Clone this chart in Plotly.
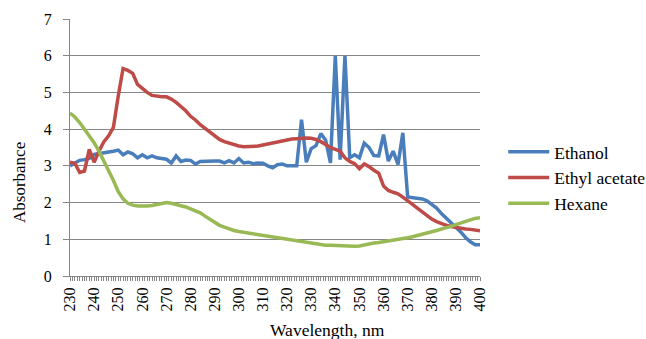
import plotly.graph_objects as go

wavelength = list(range(230, 401, 2))

ethanol = [3.00, 3.07, 3.15, 3.17, 3.20, 3.31, 3.34, 3.36, 3.38, 3.40,
           3.43, 3.30, 3.38, 3.33, 3.22, 3.30, 3.22, 3.27, 3.22, 3.20,
           3.18, 3.08, 3.27, 3.12, 3.16, 3.15, 3.05, 3.12, 3.13, 3.13,
           3.13, 3.13, 3.08, 3.14, 3.08, 3.20, 3.08, 3.10, 3.06, 3.08,
           3.07, 3.00, 2.95, 3.03, 3.05, 3.00, 3.00, 3.00, 4.26, 3.10,
           3.47, 3.55, 3.88, 3.70, 3.08, 6.00, 3.17, 6.00, 3.22, 3.30,
           3.22, 3.62, 3.50, 3.28, 3.27, 3.85, 3.13, 3.40, 3.04, 3.90,
           2.15, 2.14, 2.12, 2.10, 2.05, 1.95, 1.85, 1.70, 1.58, 1.45,
           1.33, 1.20, 1.05, 0.93, 0.85, 0.85]

ethyl_acetate = [3.10, 3.07, 2.82, 2.86, 3.45, 3.10, 3.40, 3.65, 3.82, 4.05,
                 4.90, 5.65, 5.60, 5.52, 5.22, 5.10, 5.00, 4.92, 4.89, 4.88,
                 4.88, 4.82, 4.73, 4.62, 4.50, 4.35, 4.25, 4.12, 4.02, 3.90,
                 3.82, 3.72, 3.66, 3.62, 3.57, 3.54, 3.52, 3.52, 3.52, 3.54,
                 3.57, 3.60, 3.62, 3.66, 3.68, 3.72, 3.73, 3.74, 3.76, 3.76,
                 3.75, 3.72, 3.66, 3.58, 3.50, 3.45, 3.40, 3.22, 3.12, 3.06,
                 2.92, 3.05, 2.98, 2.88, 2.80, 2.45, 2.33, 2.28, 2.24, 2.15,
                 2.06, 1.95, 1.85, 1.75, 1.65, 1.55, 1.48, 1.42, 1.38, 1.35,
                 1.32, 1.30, 1.28, 1.27, 1.25, 1.23]

hexane = [4.44, 4.33, 4.18, 4.00, 3.83, 3.63, 3.40, 3.15, 2.85, 2.60,
          2.30, 2.10, 1.98, 1.93, 1.91, 1.90, 1.91, 1.92, 1.94, 1.97,
          2.00, 1.98, 1.95, 1.92, 1.88, 1.83, 1.78, 1.72, 1.63, 1.55,
          1.45, 1.38, 1.33, 1.28, 1.24, 1.21, 1.19, 1.17, 1.15, 1.12,
          1.10, 1.08, 1.06, 1.04, 1.02, 1.00, 0.98, 0.96, 0.94, 0.92,
          0.89, 0.87, 0.85, 0.84, 0.84, 0.83, 0.82, 0.81, 0.80, 0.81,
          0.82, 0.85, 0.88, 0.90, 0.91, 0.93, 0.94, 0.96, 0.99, 1.02,
          1.04, 1.07, 1.10, 1.14, 1.17, 1.21, 1.24, 1.28, 1.31, 1.35,
          1.40, 1.45, 1.49, 1.53, 1.57, 1.59]

series_names = ["Ethanol", "Ethyl acetate", "Hexane"]
colors = ["#4A7EBB", "#BE4B48", "#98B954"]
x_title = "Wavelength, nm"
y_title = "Absorbance"

fig = go.Figure()
for name, ys, c in zip(series_names, [ethanol, ethyl_acetate, hexane], colors):
    fig.add_trace(go.Scatter(x=wavelength, y=ys, mode="lines", name=name,
                             line=dict(color=c, width=3.5)))

W, H = 646, 339
font_family = "Liberation Serif"
fig.update_layout(
    width=W, height=H,
    margin=dict(l=70, r=166, t=19, b=63, autoexpand=False),
    paper_bgcolor="white", plot_bgcolor="white",
    font=dict(family=font_family, size=16, color="black"),
    showlegend=True,
    legend=dict(xref="container", yref="container", x=0.779, y=0.475,
                xanchor="left", yanchor="middle", itemwidth=41,
                font=dict(size=17.5, family=font_family),
                bgcolor="rgba(0,0,0,0)"),
    annotations=[
        dict(text=x_title, xref="paper", yref="paper",
             x=(327 - 70) / 410, y=-(330 - 276) / 257,
             xanchor="center", yanchor="middle", showarrow=False,
             font=dict(size=17.5, family=font_family)),
        dict(text=y_title, xref="paper", yref="paper",
             x=-(70 - 19) / 410, y=(276 - 183) / 257, textangle=-90,
             xanchor="center", yanchor="middle", showarrow=False,
             font=dict(size=17, family=font_family)),
    ],
)
fig.update_xaxes(
    range=[230, 400], tickmode="linear", tick0=230, dtick=10,
    tickangle=-90, ticks="outside", ticklen=4, tickcolor="#868686",
    showline=True, linecolor="#868686", linewidth=1, showgrid=False,
    zeroline=False, automargin=False,
    minor=dict(dtick=1, ticks="outside", ticklen=4, tickcolor="#868686", showgrid=False),
)
fig.update_yaxes(
    range=[0, 7], dtick=1, ticks="outside", ticklen=6, tickcolor="#868686",
    showline=True, linecolor="#868686", linewidth=1,
    showgrid=True, gridcolor="#868686", gridwidth=1, zeroline=False,
    ticklabelstandoff=8, automargin=False,
)

fig.write_html("out.html", config={"displayModeBar": False},
               post_script="document.body.style.margin='0';document.body.style.overflow='hidden';")
